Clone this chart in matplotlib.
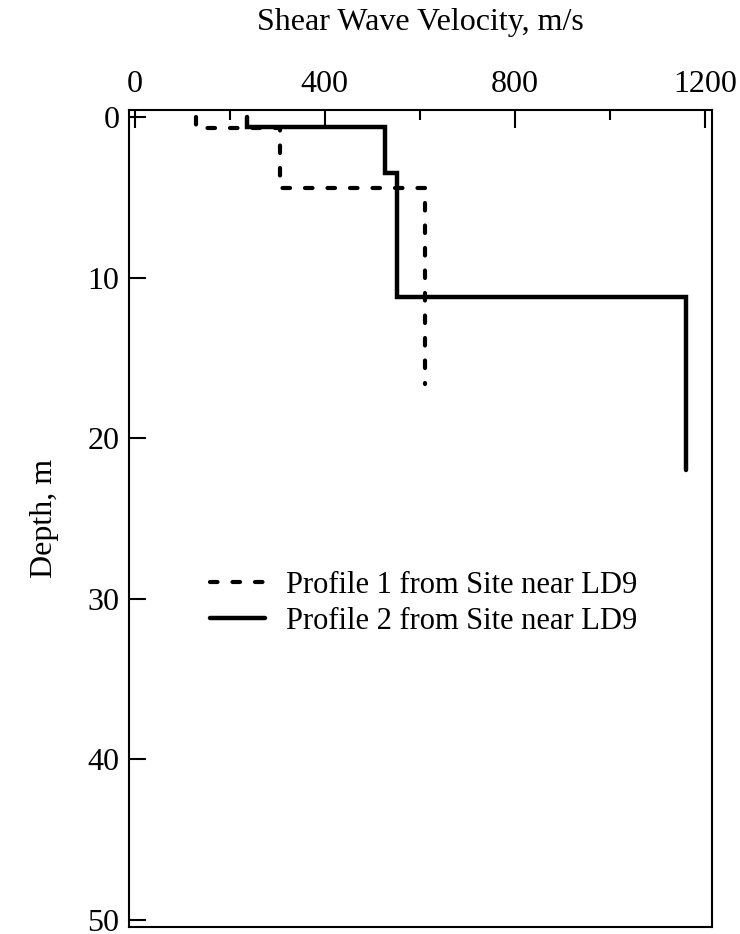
import numpy as np
import matplotlib
matplotlib.use("Agg")
import matplotlib.pyplot as plt
from matplotlib.ticker import MultipleLocator

# Data: layered shear-wave velocity profiles
p1_vs = [130, 305, 610]                 # m/s per layer
p1_bounds = [0, 0.7, 4.4, 16.6]         # layer boundaries, m
p2_vs = [236, 526, 551, 1160]
p2_bounds = [0, 0.6, 3.5, 11.2, 22.0]
labels = ["Profile 1 from Site near LD9", "Profile 2 from Site near LD9"]
x_ticks = [0, 400, 800, 1200]
y_ticks = [0, 10, 20, 30, 40, 50]


def step_path(vs, bounds):
    x = np.repeat(vs, 2)
    y = np.repeat(bounds, 2)[1:-1]
    return x, y


plt.rcParams['font.family'] = ['Liberation Serif', 'DejaVu Serif']
FS = 23
LFS = 22

fig = plt.figure(figsize=(7.4, 9.34), dpi=100)
ax = fig.add_axes([129/740, 7/934, (712-129)/740, (927-110)/934])

x1, y1 = step_path(p1_vs, p1_bounds)
x2, y2 = step_path(p2_vs, p2_bounds)
ax.plot(x1, y1, color='black', lw=3.0, linestyle=(0, (1.8, 3.6)),
        dash_capstyle='round', label=labels[0])
ax.plot(x2, y2, color='black', lw=3.2, solid_capstyle='round',
        solid_joinstyle='miter', label=labels[1])

ax.set_xlim(-12, 1215)
ax.set_ylim(50.45, -0.45)

ax.xaxis.set_ticks_position('top')
ax.xaxis.set_label_position('top')
ax.set_xticks(x_ticks)
ax.xaxis.set_minor_locator(MultipleLocator(200))
ax.set_yticks(y_ticks)

ax.tick_params(axis='x', which='major', direction='in', length=13, width=1.5,
               labelsize=FS, pad=8, top=True, bottom=False)
ax.tick_params(axis='x', which='minor', direction='in', length=7, width=1.5,
               top=True, bottom=False)
ax.tick_params(axis='y', which='major', direction='in', length=12, width=1.5,
               labelsize=FS, pad=7, left=True, right=False)

for s in ax.spines.values():
    s.set_linewidth(1.5)

ax.set_xlabel("Shear Wave Velocity, m/s", fontsize=FS, labelpad=29)
ax.set_ylabel("Depth, m", fontsize=FS, labelpad=20)

ax.legend(loc='upper left', bbox_to_anchor=(0.139, 0.436), frameon=False,
          fontsize=LFS, handlelength=1.8, handletextpad=0.7, labelspacing=0.24,
          borderpad=0, borderaxespad=0)

fig.savefig("out.png", dpi=100)
